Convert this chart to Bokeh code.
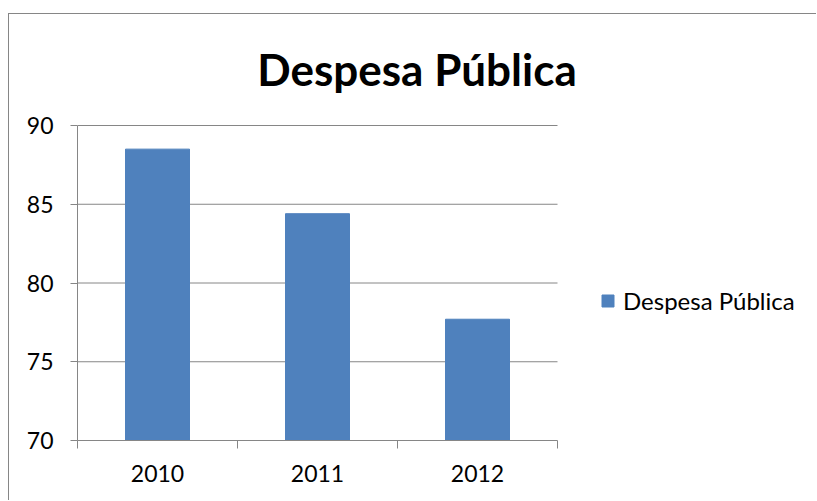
from bokeh.plotting import figure
from bokeh.models import (Range1d, FixedTicker, Legend, LegendItem, Label,
                          ColumnDataSource)
from bokeh.embed import file_html
from bokeh.resources import INLINE

# ---- data ----
categories = ["2010", "2011", "2012"]
values = [88.5, 84.4, 77.7]
series_name = "Despesa Pública"
title_text = "Despesa Pública"
y_ticks = [70, 75, 80, 85, 90]

y_min, y_max = y_ticks[0], y_ticks[-1]
n = len(categories)
xs = [i + 0.5 for i in range(n)]

GRAY = "#868686"
BLUE = "#4F81BD"
FONT = "Lato"

# ---- layout (pixels) ----
W, H = 808, 487
LEFT, BOTTOM = 68, 61
PLOT_W, PLOT_H = 480, 315          # pixel size of the category/value area
frame_w = W - LEFT
frame_h = H - BOTTOM
x_end = n * frame_w / PLOT_W
y_end = y_min + (y_max - y_min) * frame_h / PLOT_H

p = figure(width=W, height=H, output_backend="svg", toolbar_location=None,
           x_range=Range1d(0, x_end), y_range=Range1d(y_min, y_end),
           min_border_left=LEFT, min_border_right=0,
           min_border_top=0, min_border_bottom=BOTTOM,
           margin=(13, 0, 0, 8),
           styles={"border-left": "1px solid #868686",
                   "border-top": "1px solid #868686"})
p.outline_line_color = None
p.background_fill_color = "white"
p.border_fill_color = "white"

# horizontal gridlines over the category area only
p.ygrid.grid_line_color = None
p.xgrid.grid_line_color = None
grid_src = ColumnDataSource(dict(y=y_ticks[1:], x0=[0] * (len(y_ticks) - 1),
                                 x1=[n] * (len(y_ticks) - 1)))
p.segment(x0="x0", x1="x1", y0="y", y1="y", source=grid_src,
          line_color=GRAY, line_width=1)

src = ColumnDataSource(dict(x=xs, top=values, bottom=[y_min] * n, cat=categories))
r = p.vbar(x="x", top="top", bottom="bottom", width=0.4, source=src,
           fill_color=BLUE, line_color=BLUE)

# y axis
p.yaxis.bounds = (y_min, y_max)
p.yaxis.ticker = FixedTicker(ticks=y_ticks)
p.yaxis.axis_line_color = GRAY
p.yaxis.major_tick_line_color = GRAY
p.yaxis.major_tick_in = 0
p.yaxis.major_tick_out = 7
p.yaxis.minor_tick_line_color = None
p.yaxis.major_label_text_font = FONT
p.yaxis.major_label_text_font_size = "23px"
p.yaxis.major_label_text_color = "black"
p.yaxis.major_label_standoff = 17

# x axis: labels at centres, ticks at category boundaries
p.xaxis.bounds = (0, n)
p.xaxis.ticker = FixedTicker(ticks=xs, minor_ticks=list(range(n + 1)))
p.xaxis.major_label_overrides = {x: c for x, c in zip(xs, categories)}
p.xaxis.axis_line_color = GRAY
p.xaxis.major_tick_line_color = None
p.xaxis.major_tick_in = 0
p.xaxis.major_tick_out = 0
p.xaxis.minor_tick_line_color = GRAY
p.xaxis.minor_tick_in = 0
p.xaxis.minor_tick_out = 8
p.xaxis.major_label_text_font = FONT
p.xaxis.major_label_text_font_size = "23px"
p.xaxis.major_label_text_color = "black"
p.xaxis.major_label_standoff = 16

# legend
legend = Legend(items=[LegendItem(label=series_name, renderers=[r])],
                location=(523, 125), padding=0, spacing=0, margin=0,
                border_line_color=None, background_fill_alpha=0,
                glyph_width=15, glyph_height=15, label_standoff=8,
                label_text_font=FONT, label_text_font_size="24px",
                label_text_color="black")
p.add_layout(legend, "center")

# title
title = Label(x=339.5, y=372, x_units="screen", y_units="screen",
              text=title_text, text_align="center", text_baseline="alphabetic",
              text_font=FONT, text_font_style="bold", text_font_size="44px",
              text_color="black")
p.add_layout(title)

open("out.html", "w").write(file_html(p, INLINE))
